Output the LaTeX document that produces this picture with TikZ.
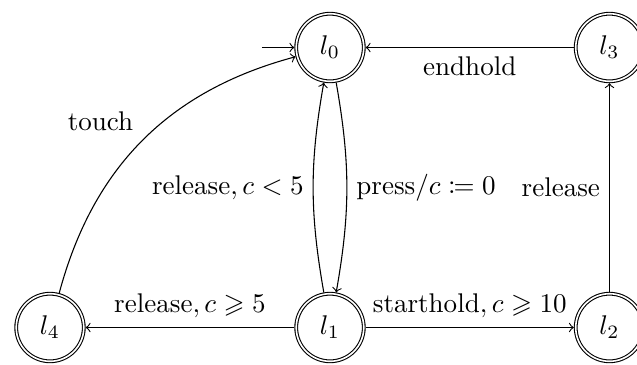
\documentclass[tikz,border=0pt]{standalone}
\usepackage{amssymb}
\usepackage{mathtools}
\begin{document}
\begin{tikzpicture}[x=0.37pt, y=-0.37pt,
  loc/.style={circle, draw, double, double distance=0.6pt, line width=0.4pt,
              minimum size=25pt, inner sep=0pt, outer sep=0.7pt},
  trans/.style={->, line width=0.4pt}]
  \useasboundingbox (0,0) rectangle (637,364);

  % locations
  \node[loc] (l0) at (330,47.5)    {$l_0$};
  \node[loc] (l1) at (330,327.5)   {$l_1$};
  \node[loc] (l2) at (609.5,327.5) {$l_2$};
  \node[loc] (l3) at (609.5,47.5)  {$l_3$};
  \node[loc] (l4) at (50,327.5)    {$l_4$};

  % initial marker
  \coordinate (init) at (262,47.5);
  \draw[trans] (init) -- (l0);

  % transitions
  \draw[trans] (l3) -- node[below] {endhold} (l0);
  \draw[trans] (l4) to[bend left=30] node[pos=0.5, above left] {touch} (l0);
  \draw[trans] (l1) to[bend left=10] node[left] {release$, c<5$} (l0);
  \draw[trans] (l0) to[bend left=10] node[right] {press$/c\coloneqq 0$} (l1);
  \draw[trans] (l1) -- node[above] {release$, c\geqslant 5$} (l4);
  \draw[trans] (l1) -- node[above] {starthold$, c\geqslant 10$} (l2);
  \draw[trans] (l2) -- node[left] {release} (l3);
\end{tikzpicture}
\end{document}
